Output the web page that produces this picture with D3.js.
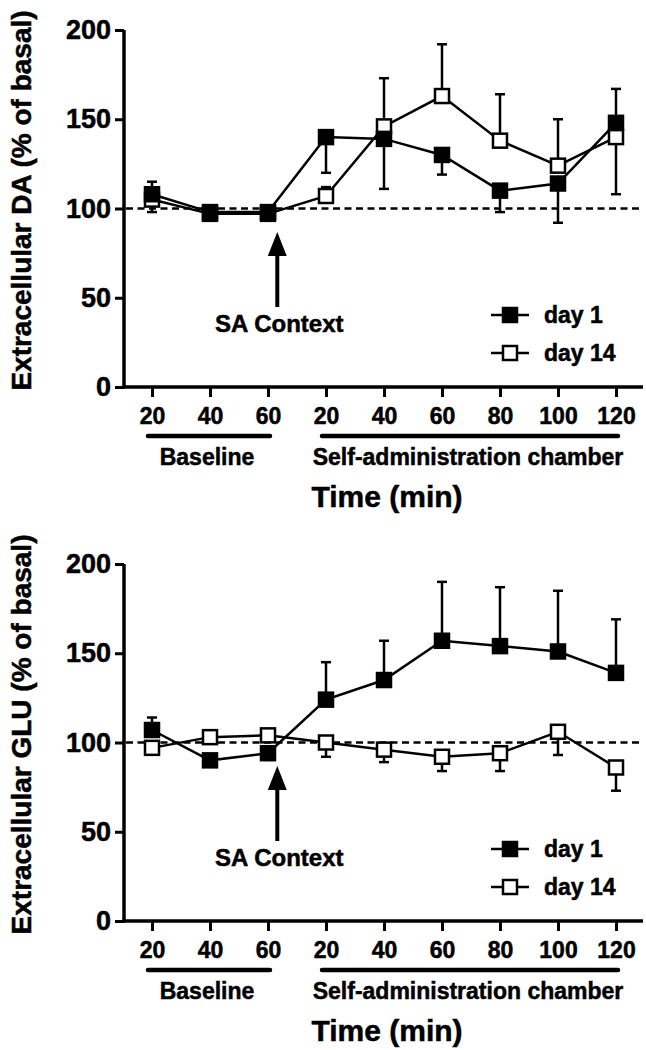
<!DOCTYPE html>
<html>
<head>
<meta charset="utf-8">
<script src="https://cdn.jsdelivr.net/npm/d3@7"></script>
<style>
  html, body { margin: 0; padding: 0; background: #fff; }
  svg { display: block; font-family: "Liberation Sans", Arial, sans-serif; font-weight: bold; }
  svg text { stroke: #000; stroke-width: 0.5px; fill: #000; }
</style>
</head>
<body>
<svg id="chart" width="646" height="1050"></svg>
<script>
// ---- data ----
const timeLabels = ["20", "40", "60", "20", "40", "60", "80", "100", "120"];
const yTicks = [0, 50, 100, 150, 200];
const seriesNames = ["day 1", "day 14"];
const groupLabels = ["Baseline", "Self-administration chamber"];
const groupRanges = [[0, 2], [3, 8]];

// Dopamine (top panel); signed error: + drawn above, - drawn below
const daDay1 = [108, 98, 98, 140, 139, 130, 110, 114, 148];
const daDay1Err = [7, 0, 0, -20, -28, -11, -12, -22, 19];
const daDay14 = [105, 97, 97, 107, 146, 163, 138, 124, 140];
const daDay14Err = [-7, 0, 0, 5, 27, 29, 26, 26, -32];

// Glutamate (bottom panel)
const gluDay1 = [107, 90, 94, 124, 135, 157, 154, 151, 139];
const gluDay1Err = [7, 0, 0, 21, 22, 33, 33, 34, 30];
const gluDay14 = [97, 103, 104, 100, 96, 92, 94, 106, 86];
const gluDay14Err = [0, 0, 0, -8, -7, -8, -10, -13, -13];

const panels = [
  { title: "Extracellular DA (% of basal)", d1: daDay1, e1: daDay1Err, d14: daDay14, e14: daDay14Err, offset: 0 },
  { title: "Extracellular GLU (% of basal)", d1: gluDay1, e1: gluDay1Err, d14: gluDay14, e14: gluDay14Err, offset: 534 }
];

const svg = d3.select("#chart");
const axisLeftX = 124, axisRightX = 643;

const x = d3.scalePoint().domain(d3.range(timeLabels.length)).range([152, 616]);
const step = x.step();

panels.forEach(p => {
  const g = svg.append("g").attr("transform", `translate(0,${p.offset})`);
  const y = d3.scaleLinear().domain([0, 200]).range([387, 30]);

  // y axis
  const yAxis = g.append("g")
    .attr("transform", `translate(${axisLeftX},0)`)
    .call(d3.axisLeft(y).tickValues(yTicks).tickSize(9).tickSizeOuter(0).tickPadding(4));
  yAxis.select(".domain").attr("stroke-width", 3.5).attr("d", `M0,${y(200)}V${y(0) + 1.5}`);
  yAxis.selectAll(".tick line").attr("stroke-width", 3);
  yAxis.selectAll(".tick text").attr("font-size", 27).attr("font-weight", "bold")
    .attr("font-family", "'Liberation Sans', Arial, sans-serif").attr("fill", "#000");

  // x axis
  const xAxis = g.append("g")
    .attr("transform", `translate(0,${y(0)})`)
    .call(d3.axisBottom(x).tickFormat(i => timeLabels[i]).tickSize(10).tickSizeOuter(0).tickPadding(11));
  xAxis.select(".domain").attr("stroke-width", 3.5).attr("d", `M${axisLeftX - 1.5},0H${axisRightX}`);
  xAxis.selectAll(".tick line").attr("stroke-width", 3);
  xAxis.selectAll(".tick text").attr("font-size", 23).attr("font-weight", "bold")
    .attr("font-family", "'Liberation Sans', Arial, sans-serif").attr("fill", "#000");

  // group underlines + labels
  groupRanges.forEach((r, i) => {
    const x0 = x(r[0]) - 4, x1 = x(r[1]) + 2;
    g.append("line").attr("x1", x0).attr("x2", x1).attr("y1", 436).attr("y2", 436)
      .attr("stroke", "#000").attr("stroke-width", 4.5).attr("stroke-linecap", "round");
    g.append("text").attr("x", (x0 + x1) / 2 - 2).attr("y", 465).attr("text-anchor", "middle")
      .attr("font-size", 23).text(groupLabels[i]);
  });

  // x title
  g.append("text").attr("x", 387).attr("y", 507).attr("text-anchor", "middle")
    .attr("font-size", 30).text("Time (min)");

  // y title
  g.append("text").attr("transform", `translate(31,${(y(0) + y(200)) / 2 - 8}) rotate(-90)`)
    .attr("text-anchor", "middle").attr("font-size", 28).text(p.title);

  // 100% dashed reference
  g.append("line").attr("x1", axisLeftX + 2).attr("x2", axisRightX - 3)
    .attr("y1", y(100)).attr("y2", y(100))
    .attr("stroke", "#000").attr("stroke-width", 2.5).attr("stroke-dasharray", "7,4.5");

  // SA Context arrow
  const ax = x(2) + step * 0.16;
  g.append("line").attr("x1", ax).attr("x2", ax).attr("y1", 250).attr("y2", 307)
    .attr("stroke", "#000").attr("stroke-width", 4);
  g.append("path").attr("d", `M${ax},232 L${ax - 9.5},256 L${ax + 9.5},256 Z`).attr("fill", "#000");
  g.append("text").attr("x", ax + 2).attr("y", 332).attr("text-anchor", "middle")
    .attr("font-size", 24).text("SA Context");

  // series
  const line = d3.line().x((d, i) => x(i)).y(d => y(d));
  const sq = 14;
  const series = [
    { vals: p.d14, err: p.e14, fill: "#fff" },
    { vals: p.d1, err: p.e1, fill: "#000" }
  ];
  series.forEach(s => {
    const sg = g.append("g");
    // error bars
    s.vals.forEach((v, i) => {
      if (!s.err[i]) return;
      const ye = y(v + s.err[i]);
      sg.append("line").attr("x1", x(i)).attr("x2", x(i)).attr("y1", y(v)).attr("y2", ye)
        .attr("stroke", "#000").attr("stroke-width", 2.5);
      sg.append("line").attr("x1", x(i) - 5).attr("x2", x(i) + 5).attr("y1", ye).attr("y2", ye)
        .attr("stroke", "#000").attr("stroke-width", 2.5);
    });
    sg.append("path").datum(s.vals).attr("d", line)
      .attr("fill", "none").attr("stroke", "#000").attr("stroke-width", 2.5);
    sg.selectAll("rect").data(s.vals).join("rect")
      .attr("x", (d, i) => x(i) - sq / 2).attr("y", d => y(d) - sq / 2)
      .attr("width", sq).attr("height", sq)
      .attr("fill", s.fill).attr("stroke", "#000").attr("stroke-width", 2.5);
  });

  // legend
  const legendRows = [{ name: seriesNames[0], fill: "#000", cy: 315 }, { name: seriesNames[1], fill: "#fff", cy: 353 }];
  legendRows.forEach(r => {
    g.append("line").attr("x1", 491).attr("x2", 529).attr("y1", r.cy).attr("y2", r.cy)
      .attr("stroke", "#000").attr("stroke-width", 2.5);
    g.append("rect").attr("x", 510 - 7).attr("y", r.cy - 7).attr("width", 14).attr("height", 14)
      .attr("fill", r.fill).attr("stroke", "#000").attr("stroke-width", 2.5);
    g.append("text").attr("x", 544).attr("y", r.cy + 8).attr("font-size", 23).text(r.name);
  });
});
</script>
</body>
</html>
